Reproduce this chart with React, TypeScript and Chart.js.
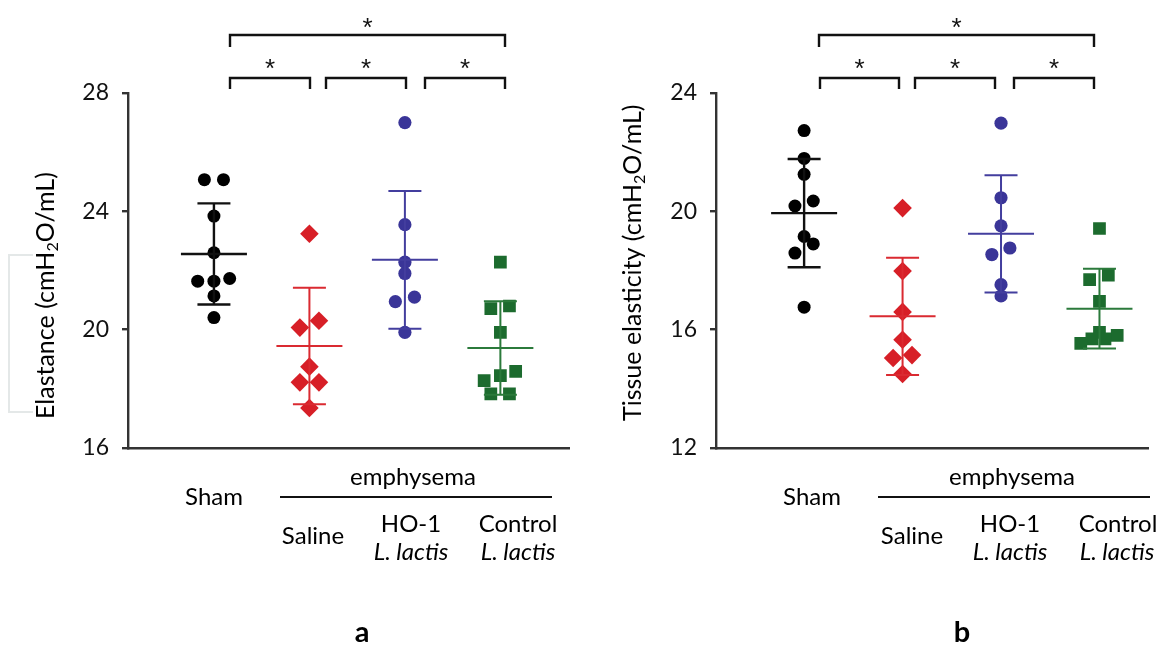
import React, { useEffect, useRef } from 'react';
import { Chart, registerables } from 'chart.js';

Chart.register(...registerables);

// ---------- data ----------
const groupNames = ['Sham', 'Saline', 'HO-1 L. lactis', 'Control L. lactis'];

// Panel a: Elastance (cmH2O/mL)
const elastSham = [25.07, 25.07, 23.84, 22.6, 21.64, 21.64, 21.73, 21.14, 20.41];
const elastSaline = [23.24, 20.3, 20.07, 18.75, 18.22, 18.22, 17.35];
const elastHO1 = [27.0, 23.55, 22.28, 21.9, 21.1, 20.95, 19.91];
const elastControl = [22.28, 20.8, 20.71, 19.91, 18.59, 18.45, 18.28, 17.83, 17.83];
const elastShamJit = [-0.1, 0.1, 0, 0, -0.17, 0, 0.165, 0, 0];
const elastSalineJit = [0, 0.1, -0.1, 0, -0.1, 0.1, 0];
const elastHO1Jit = [0, 0, 0, 0, 0.1, -0.1, 0];
const elastControlJit = [0, 0.095, -0.1, 0, 0.16, 0, -0.17, -0.1, 0.095];
const elastMean = [22.56, 19.45, 22.36, 19.38];
const elastSD = [1.71, 1.97, 2.33, 1.58];
const elastTicks = [16, 20, 24, 28];

// Panel b: Tissue elasticity (cmH2O/mL)
const tissueSham = [22.73, 21.79, 21.25, 20.35, 20.18, 19.15, 18.9, 18.59, 16.76];
const tissueSaline = [20.11, 17.98, 16.6, 15.66, 15.14, 15.04, 14.5];
const tissueHO1 = [22.98, 20.46, 19.51, 18.76, 18.54, 17.52, 17.14];
const tissueControl = [19.42, 17.84, 17.69, 16.96, 15.91, 15.81, 15.69, 15.69, 15.54];
const tissueShamJit = [0, 0, 0, 0.093, -0.093, 0, 0.093, -0.093, 0];
const tissueSalineJit = [0, 0, 0, 0, 0.096, -0.096, 0];
const tissueHO1Jit = [0, 0, 0, 0.09, -0.093, 0, 0];
const tissueControlJit = [0, 0.09, -0.1, 0, 0, 0.18, 0.056, -0.077, -0.19];
const tissueMean = [19.94, 16.45, 19.24, 16.71];
const tissueSD = [1.83, 1.98, 1.98, 1.35];
const tissueTicks = [12, 16, 20, 24];

// significance brackets (group index pairs) and their labels
const brackets: [number, number][] = [[0, 1], [1, 2], [2, 3], [0, 3]];
const bracketLabels = ['*', '*', '*', '*'];

// ---------- styles ----------
const FONT = 'Lato, "Open Sans", sans-serif';
const STAR_FONT = '"Liberation Sans", Arial, sans-serif';
const pointColors = ['#000000', '#d71f27', '#3a3598', '#1c6b2e'];
const lineColors = ['#111111', '#da2a31', '#433e9e', '#2b7a3b'];
const pointStyles = ['circle', 'rectRot', 'circle', 'rect'];
const pointRadii = [6.5, 9.3, 6.6, 9];

type PanelCfg = {
  left: number;
  axisLeft: number;
  xMin: number;
  xMax: number;
  yMin: number;
  yMax: number;
  ticks: number[];
  values: number[][];
  jitter: number[][];
  mean: number[];
  sd: number[];
  titleParts: { t: string; sub?: boolean }[];
  titleX: number;
  titleBottom: number;
  letter: string;
  letterX: number;
  labels: { t: string; x: number; y: number; italic?: boolean }[];
  emphLine: [number, number];
  emphX: number;
  bracketOffsets: [number, number][];
  ghost?: boolean;
};

const W = 579;
const H = 646;

const panels: PanelCfg[] = [
  {
    left: 0,
    axisLeft: 128,
    xMin: -0.9,
    xMax: 3.726,
    yMin: 16,
    yMax: 28,
    ticks: elastTicks,
    values: [elastSham, elastSaline, elastHO1, elastControl],
    jitter: [elastShamJit, elastSalineJit, elastHO1Jit, elastControlJit],
    mean: elastMean,
    sd: elastSD,
    titleParts: [{ t: 'Elastance (cmH' }, { t: '2', sub: true }, { t: 'O/mL)' }],
    titleX: 45,
    titleBottom: 419,
    letter: 'a',
    letterX: 362,
    labels: [
      { t: 'Sham', x: 214, y: 497 },
      { t: 'Saline', x: 313, y: 536 },
      { t: 'HO-1', x: 411, y: 524 },
      { t: 'L. lactis', x: 411, y: 552, italic: true },
      { t: 'Control', x: 518, y: 524 },
      { t: 'L. lactis', x: 518, y: 552, italic: true },
    ],
    emphLine: [280, 552],
    emphX: 413,
    bracketOffsets: [[102, 182], [198, 278], [297, 377], [102, 377]],
    ghost: true,
  },
  {
    left: 579,
    axisLeft: 137,
    xMin: -0.895,
    xMax: 3.5,
    yMin: 12,
    yMax: 24,
    ticks: tissueTicks,
    values: [tissueSham, tissueSaline, tissueHO1, tissueControl],
    jitter: [tissueShamJit, tissueSalineJit, tissueHO1Jit, tissueControlJit],
    mean: tissueMean,
    sd: tissueSD,
    titleParts: [{ t: 'Tissue elasticity (cmH' }, { t: '2', sub: true }, { t: 'O/mL)' }],
    titleX: 53,
    titleBottom: 421,
    letter: 'b',
    letterX: 383,
    labels: [
      { t: 'Sham', x: 233, y: 497 },
      { t: 'Saline', x: 333, y: 536 },
      { t: 'HO-1', x: 431, y: 524 },
      { t: 'L. lactis', x: 431, y: 552, italic: true },
      { t: 'Control', x: 539, y: 524 },
      { t: 'L. lactis', x: 538, y: 552, italic: true },
    ],
    emphLine: [299, 571],
    emphX: 433,
    bracketOffsets: [[104, 183], [199, 279], [298, 378], [103, 378]],
  },
];

function makeOverlay(cfg: PanelCfg) {
  return {
    id: 'overlay',
    afterDatasetsDraw(chart: any) {
      const { ctx } = chart;
      const xs = chart.scales.x;
      const ys = chart.scales.y;
      ctx.save();
      cfg.mean.forEach((m, i) => {
        const px = xs.getPixelForValue(i);
        const pm = ys.getPixelForValue(m);
        const ph = ys.getPixelForValue(m + cfg.sd[i]);
        const pl = ys.getPixelForValue(m - cfg.sd[i]);
        ctx.strokeStyle = lineColors[i];
        ctx.lineWidth = i === 0 ? 2.4 : 2;
        ctx.beginPath();
        ctx.moveTo(px, ph);
        ctx.lineTo(px, pl);
        ctx.moveTo(px - 16.5, ph);
        ctx.lineTo(px + 16.5, ph);
        ctx.moveTo(px - 16.5, pl);
        ctx.lineTo(px + 16.5, pl);
        ctx.moveTo(px - 33, pm);
        ctx.lineTo(px + 33, pm);
        ctx.stroke();
      });
      ctx.restore();
    },
    afterDraw(chart: any) {
      const { ctx, chartArea } = chart;
      ctx.save();
      // brackets
      ctx.strokeStyle = '#111';
      ctx.lineWidth = 2.4;
      ctx.fillStyle = '#111';
      ctx.textAlign = 'center';
      ctx.textBaseline = 'alphabetic';
      brackets.forEach((b, k) => {
        const [o1, o2] = cfg.bracketOffsets[k];
        const x1 = chartArea.left + o1;
        const x2 = chartArea.left + o2;
        const top = k === 3;
        const yH = top ? 35 : 78;
        const yL = top ? 47 : 89;
        ctx.beginPath();
        ctx.moveTo(x1, yL);
        ctx.lineTo(x1, yH);
        ctx.lineTo(x2, yH);
        ctx.lineTo(x2, yL);
        ctx.stroke();
        ctx.font = `26px ${STAR_FONT}`;
        ctx.fillText(bracketLabels[k], (x1 + x2) / 2, top ? 36 : 77);
      });

      // y title with subscript
      const fs = 25;
      const subFs = 16;
      ctx.save();
      ctx.translate(cfg.titleX, cfg.titleBottom);
      ctx.rotate(-Math.PI / 2);
      ctx.textAlign = 'left';
      ctx.textBaseline = 'alphabetic';
      ctx.fillStyle = '#000';
      let cx = 0;
      cfg.titleParts.forEach((p) => {
        ctx.font = `${p.sub ? subFs : fs}px ${FONT}`;
        ctx.fillText(p.t, cx, p.sub ? 13 : 9);
        cx += ctx.measureText(p.t).width;
      });
      ctx.restore();

      // category labels
      ctx.fillStyle = '#000';
      ctx.textAlign = 'center';
      ctx.textBaseline = 'middle';
      cfg.labels.forEach((l) => {
        ctx.font = `${l.italic ? 'italic ' : ''}24px ${FONT}`;
        ctx.fillText(l.t, l.x, l.y);
      });
      ctx.font = `24px ${FONT}`;
      ctx.fillText('emphysema', cfg.emphX, 477);
      ctx.strokeStyle = '#111';
      ctx.lineWidth = 2;
      ctx.beginPath();
      ctx.moveTo(cfg.emphLine[0], 497);
      ctx.lineTo(cfg.emphLine[1], 497);
      ctx.stroke();

      // panel letter
      ctx.font = `bold 29px ${FONT}`;
      ctx.fillText(cfg.letter, cfg.letterX, 633);

      if (cfg.ghost) {
        ctx.strokeStyle = '#e4e8e8';
        ctx.lineWidth = 2;
        ctx.beginPath();
        ctx.moveTo(33, 255);
        ctx.lineTo(9, 255);
        ctx.lineTo(9, 412);
        ctx.lineTo(33, 412);
        ctx.stroke();
      }
      ctx.restore();
    },
  };
}

function Panel({ cfg }: { cfg: PanelCfg }) {
  const ref = useRef<HTMLCanvasElement>(null);
  useEffect(() => {
    const canvas = ref.current;
    if (!canvas) return;
    const datasets = cfg.values.map((vals, gi) => ({
      label: groupNames[gi],
      data: vals.map((v, k) => ({ x: gi + cfg.jitter[gi][k], y: v })),
      pointStyle: pointStyles[gi] as any,
      pointRadius: pointRadii[gi],
      pointHoverRadius: pointRadii[gi],
      backgroundColor: pointColors[gi],
      borderColor: pointColors[gi],
      borderWidth: 0,
      showLine: false,
    }));
    const chart = new Chart(canvas, {
      type: 'scatter',
      data: { datasets },
      options: {
        animation: false,
        responsive: false,
        devicePixelRatio: 1,
        layout: { padding: { top: 93, bottom: H - 448, left: 0, right: 0 } },
        plugins: { legend: { display: false }, tooltip: { enabled: false } },
        scales: {
          x: {
            type: 'linear',
            min: cfg.xMin,
            max: cfg.xMax,
            ticks: { display: false },
            grid: { display: false, drawTicks: false },
            border: { display: true, color: '#333', width: 2.4 },
            afterFit: (s: any) => {
              s.height = 0;
            },
          },
          y: {
            type: 'linear',
            min: cfg.yMin,
            max: cfg.yMax,
            afterBuildTicks: (s: any) => {
              s.ticks = cfg.ticks.map((v) => ({ value: v }));
            },
            ticks: {
              color: '#111',
              font: { family: FONT, size: 23 },
              padding: 13,
            },
            grid: {
              display: true,
              drawOnChartArea: false,
              drawTicks: true,
              tickLength: 6,
              color: '#333',
              lineWidth: 2.4,
            },
            border: { display: true, color: '#333', width: 2.4 },
            afterFit: (s: any) => {
              s.width = cfg.axisLeft;
            },
          },
        },
      },
      plugins: [makeOverlay(cfg)],
    });
    return () => chart.destroy();
  }, [cfg]);
  return (
    <canvas
      ref={ref}
      width={W}
      height={H}
      style={{ position: 'absolute', left: cfg.left, top: 0, width: W, height: H }}
    />
  );
}

export default function App() {
  return (
    <div
      style={{
        position: 'fixed',
        left: 0,
        top: 0,
        width: 1158,
        height: 646,
        background: '#ffffff',
        overflow: 'hidden',
      }}
    >
      {panels.map((p) => (
        <Panel key={p.letter} cfg={p} />
      ))}
    </div>
  );
}
